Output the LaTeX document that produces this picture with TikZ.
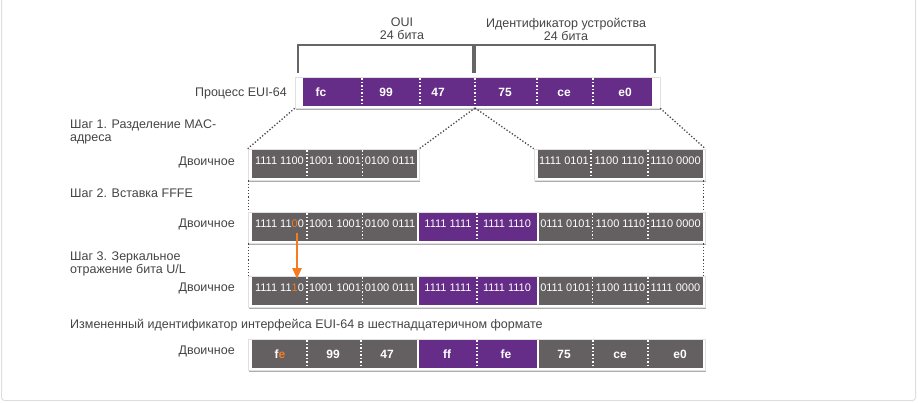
\documentclass[tikz,border=0pt]{standalone}
\usepackage{fontspec}
\setmainfont{Liberation Sans}
\usetikzlibrary{shadows,arrows.meta}
\definecolor{eupurple}{HTML}{652C88}
\definecolor{eugray}{HTML}{646061}
\definecolor{euorange}{HTML}{F47C20}
\definecolor{lbl}{HTML}{444444}
\newcommand{\og}[1]{\textcolor{euorange}{#1}}
\begin{document}
\begin{tikzpicture}[x=1pt,y=-1pt,
  frame/.style={draw=black!12, fill=white, line width=0.6pt, inner sep=0pt,
    drop shadow={shadow xshift=0.8pt, shadow yshift=-1.6pt, opacity=0.4, fill=black!80}},
  segg/.style={fill=eugray, inner sep=0pt, minimum height=28pt},
  segp/.style={fill=eupurple, inner sep=0pt, minimum height=28pt},
  bin/.style={text=white, font=\fontsize{11}{13}\selectfont, inner sep=0pt, anchor=base},
  hex/.style={text=white, font=\bfseries\fontsize{12}{14}\selectfont, inner sep=0pt, anchor=base},
  lab/.style={text=lbl, font=\fontsize{12.5}{13}\selectfont, inner sep=0pt},
  divl/.style={white, line width=1.6pt, dash pattern=on 1.5pt off 2pt},
  dotl/.style={black!72, line width=1.3pt, dash pattern=on 1.3pt off 1.9pt},
  brk/.style={black!60, line width=1.1pt}
]
\useasboundingbox (0,0) rectangle (918,402);
% outer border
\draw[black!13, line width=1pt, rounded corners=3pt] (1.5,-5) rectangle (915.5,400.5);

% ---------- top labels and brackets ----------
\node[lab, anchor=north, align=center] (oui) at (402,18) {OUI\\24 бита};
\node[lab, anchor=north, align=center] (devid) at (566,18) {Идентификатор устройства\\24 бита};
\draw[brk] (298,73) |- (473,45) -- (473,73);
\draw[brk] (475,73) |- (655,45) -- (655,73);

% ---------- EUI-64 process bar ----------
\node[lab, anchor=base east] (proc) at (287,96) {Процесс EUI-64};
\node[frame, minimum width=365pt, minimum height=31pt] (tf) at (477.5,92.5) {};
\node[segp, minimum width=349pt] (tbar) at (477.5,92) {};
\foreach \x in {362,420,475,537,593} \draw[divl] (\x,78) -- (\x,106);
\node[hex] (t1) at (321,96.5) {fc};
\node[hex] (t2) at (386,96.5) {99};
\node[hex] (t3) at (438,96.5) {47};
\node[hex] (t4) at (505,96.5) {75};
\node[hex] (t5) at (564,96.5) {ce};
\node[hex] (t6) at (625,96.5) {e0};

% ---------- Step 1 ----------
\node[lab, anchor=north west, align=left] (s1) at (70,119.5) {Шаг 1. Разделение MAC-\\адреса};
\node[lab, anchor=base east] (d1) at (235,165) {Двоичное};
\node[frame, minimum width=171pt, minimum height=31pt] (r1a) at (333.5,164.5) {};
\node[frame, minimum width=171pt, minimum height=31pt] (r1c) at (619.5,164.5) {};
\node[segg, minimum width=165pt] (r1A) at (334.5,164) {};
\node[segg, minimum width=165pt] (r1C) at (620.5,164) {};
\foreach \x in {307,362.5,591,648} \draw[divl] (\x,150) -- (\x,178);
\node[bin] (r1t1) at (279.5,164.5) {1111 1100};
\node[bin] (r1t2) at (335,164.5) {1001 1001};
\node[bin] (r1t3) at (390,164.5) {0100 0111};
\node[bin] (r1t4) at (564,164.5) {1111 0101};
\node[bin] (r1t5) at (619.5,164.5) {1100 1110};
\node[bin] (r1t6) at (675.5,164.5) {1110 0000};

% ---------- Step 2 ----------
\node[lab, anchor=base west] (s2) at (70,197) {Шаг 2. Вставка FFFE};
\node[lab, anchor=base east] (d2) at (235,227.5) {Двоичное};
\node[frame, minimum width=457pt, minimum height=31pt] (r2) at (476.5,227.5) {};
\node[segg, minimum width=165pt] (r2A) at (334.5,227) {};
\node[segp, minimum width=118pt] (r2B) at (478,227) {};
\node[segg, minimum width=164pt] (r2C) at (621,227) {};
\foreach \x in {307,362.5,477,592.5,648} \draw[divl] (\x,213) -- (\x,241);
\node[bin] (r2t1) at (279.5,227.5) {1111 11\og{0}0};
\node[bin] (r2t2) at (335,227.5) {1001 1001};
\node[bin] (r2t3) at (390,227.5) {0100 0111};
\node[bin] (r2t4) at (448,227.5) {1111 1111};
\node[bin] (r2t5) at (507,227.5) {1111 1110};
\node[bin] (r2t6) at (565.5,227.5) {0111 0101};
\node[bin] (r2t7) at (620.5,227.5) {1100 1110};
\node[bin] (r2t8) at (675.5,227.5) {1110 0000};

% ---------- Step 3 ----------
\node[lab, anchor=north west, align=left] (s3) at (70,252) {Шаг 3. Зеркальное\\отражение бита U/L};
\node[lab, anchor=base east] (d3) at (235,291) {Двоичное};
\node[frame, minimum width=457pt, minimum height=31pt] (r3) at (476.5,291.5) {};
\node[segg, minimum width=165pt] (r3A) at (334.5,291) {};
\node[segp, minimum width=118pt] (r3B) at (478,291) {};
\node[segg, minimum width=164pt] (r3C) at (621,291) {};
\foreach \x in {307,362.5,477,592.5,648} \draw[divl] (\x,277) -- (\x,305);
\node[bin] (r3t1) at (279.5,291.5) {1111 11\og{1}0};
\node[bin] (r3t2) at (335,291.5) {1001 1001};
\node[bin] (r3t3) at (390,291.5) {0100 0111};
\node[bin] (r3t4) at (448,291.5) {1111 1111};
\node[bin] (r3t5) at (507,291.5) {1111 1110};
\node[bin] (r3t6) at (565.5,291.5) {0111 0101};
\node[bin] (r3t7) at (620.5,291.5) {1100 1110};
\node[bin] (r3t8) at (675.5,291.5) {1111 0000};

% ---------- Result ----------
\node[lab, anchor=base west] (s4) at (70,328) {Измененный идентификатор интерфейса EUI-64 в шестнадцатеричном формате};
\node[lab, anchor=base east] (d4) at (235,354) {Двоичное};
\node[frame, minimum width=457pt, minimum height=31pt] (r4) at (476.5,354.5) {};
\node[segg, minimum width=165pt] (r4A) at (334.5,354) {};
\node[segp, minimum width=118pt] (r4B) at (478,354) {};
\node[segg, minimum width=164pt] (r4C) at (621,354) {};
\foreach \x in {307,361,477,593,648} \draw[divl] (\x,340) -- (\x,368);
\node[hex] (r4t1) at (280,358) {f\og{e}};
\node[hex] (r4t2) at (333,358) {99};
\node[hex] (r4t3) at (387,358) {47};
\node[hex] (r4t4) at (447,358) {ff};
\node[hex] (r4t5) at (506,358) {fe};
\node[hex] (r4t6) at (564,358) {75};
\node[hex] (r4t7) at (620,358) {ce};
\node[hex] (r4t8) at (680,358) {e0};

% ---------- dotted connectors ----------
\coordinate (tfm) at (475,108);
\draw[dotl] (tf.south west) -- (r1a.north west);
\draw[dotl] (tfm) -- (r1a.north east);
\draw[dotl] (tfm) -- (r1c.north west);
\draw[dotl] (tf.south east) -- (r1c.north east);
\draw[dotl] ([xshift=1pt]r1a.south west) -- ([xshift=1pt]r2.north west);
\draw[dotl] ([xshift=-1.5pt]r1c.south east) -- ([xshift=-1.5pt]r2.north east);
\draw[dotl] ([xshift=1pt]r2.south west) -- ([xshift=1pt]r3.north west);
\draw[dotl] ([xshift=-1.5pt]r2.south east) -- ([xshift=-1.5pt]r3.north east);

% ---------- U/L flip arrow ----------
\coordinate (ula) at (297,233);
\coordinate (ulb) at (297,279);
\draw[euorange, line width=2.6pt, -{Triangle[width=9pt,length=11pt]}] (ula) -- (ulb);
\end{tikzpicture}
\end{document}
